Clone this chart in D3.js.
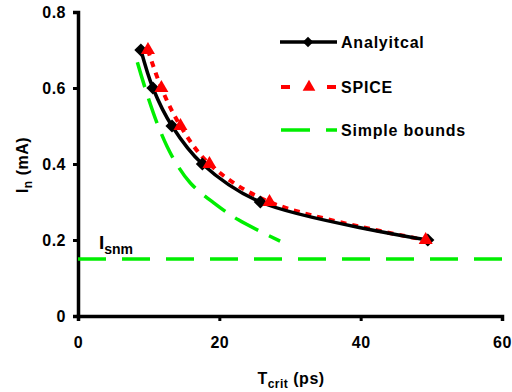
<!DOCTYPE html>
<html>
<head>
<meta charset="utf-8">
<script src="https://cdn.jsdelivr.net/npm/d3@7"></script>
<style>
  body { margin: 0; background: #fff; }
  text { font-family: "Liberation Sans", Arial, sans-serif; font-weight: bold; fill: #000; }
</style>
</head>
<body>
<div id="chart"></div>
<script>
// data
const analyticalT = [8.9, 10.6, 13.3, 17.6, 25.8, 49.5];
const analyticalI = [0.70, 0.60, 0.50, 0.40, 0.30, 0.20];
const spiceT = [9.9, 11.8, 14.5, 18.6, 27.1, 49.2];
const spiceI = [0.70, 0.60, 0.50, 0.40, 0.30, 0.20];
const boundsT = [8.4, 9.8, 11.35, 13.3, 15.9, 19.4, 22.7, 28.6];
const boundsI = [0.668, 0.582, 0.50, 0.421, 0.35, 0.295, 0.253, 0.197];
const isnm = 0.15;
const xTicks = [0, 20, 40, 60];
const yTicks = [0, 0.2, 0.4, 0.6, 0.8];

const W = 512, H = 392;
const margin = { top: 12, right: 10, bottom: 76, left: 78 };

const svg = d3.select("#chart").append("svg")
  .attr("width", W).attr("height", H);

const x = d3.scaleLinear().domain([0, 60]).range([margin.left, 502]);
const y = d3.scaleLinear().domain([0, 0.8]).range([316, margin.top]);

// axes
const xAxis = svg.append("g")
  .attr("transform", "translate(0," + y(0) + ")")
  .call(d3.axisBottom(x).tickValues(xTicks).tickFormat(d3.format("d")).tickSize(5).tickPadding(16));
const yAxis = svg.append("g")
  .attr("transform", "translate(" + x(0) + ",0)")
  .call(d3.axisLeft(y).tickValues(yTicks).tickFormat(d => d === 0 ? "0" : d3.format(".1f")(d)).tickSize(5).tickPadding(7));

[xAxis, yAxis].forEach(g => {
  g.select(".domain").attr("stroke", "#000").attr("stroke-width", 3.5);
  g.selectAll(".tick line").attr("stroke", "#000").attr("stroke-width", 3);
  g.selectAll(".tick text").style("font-size", "16px").style("font-weight", "bold")
    .style("letter-spacing", "0.5px")
    .style("font-family", "'Liberation Sans', Arial, sans-serif");
});

// axis titles
const xt = svg.append("text").attr("x", 291).attr("y", 384)
  .attr("text-anchor", "middle").style("font-size", "16px").style("letter-spacing", "0.5px");
xt.append("tspan").text("T");
xt.append("tspan").attr("dy", 4).style("font-size", "12px").text("crit");
xt.append("tspan").attr("dy", -4).text(" (ps)");

const yt = svg.append("text")
  .attr("transform", "translate(28,165) rotate(-90)")
  .attr("text-anchor", "middle").style("font-size", "16px").style("letter-spacing", "0.5px");
yt.append("tspan").text("I");
yt.append("tspan").attr("dy", 4).style("font-size", "12px").text("n");
yt.append("tspan").attr("dy", -4).text(" (mA)");

// Isnm reference line
svg.append("line")
  .attr("x1", x(0)).attr("x2", x(60))
  .attr("y1", y(isnm)).attr("y2", y(isnm))
  .attr("stroke", "#00ee00").attr("stroke-width", 3.5)
  .attr("stroke-dasharray", "28,16");

const lab = svg.append("text").attr("x", 99).attr("y", 249).style("font-size", "19px");
lab.append("tspan").text("I");
lab.append("tspan").attr("dy", 5).style("font-size", "14px").text("snm");

const line = d3.line().curve(d3.curveCatmullRom.alpha(0.5));

// simple bounds
svg.append("path")
  .attr("d", line(boundsT.map((t, i) => [x(t), y(boundsI[i])])))
  .attr("fill", "none").attr("stroke", "#00ee00").attr("stroke-width", 3.5)
  .attr("stroke-dasharray", "26,12");

// SPICE
const spicePts = spiceT.map((t, i) => [x(t), y(spiceI[i])]);
svg.append("path")
  .attr("d", line(spicePts))
  .attr("fill", "none").attr("stroke", "#ff0000").attr("stroke-width", 4)
  .attr("stroke-dasharray", "6,6");

// analytical
const anaPts = analyticalT.map((t, i) => [x(t), y(analyticalI[i])]);
svg.append("path")
  .attr("d", line(anaPts))
  .attr("fill", "none").attr("stroke", "#000").attr("stroke-width", 3.5);

svg.selectAll("path.dia").data(anaPts).enter().append("path")
  .attr("class", "dia")
  .attr("transform", d => "translate(" + d[0] + "," + d[1] + ")")
  .attr("d", d3.symbol(d3.symbolDiamond2, 110))
  .attr("fill", "#000");

svg.selectAll("path.tri").data(spicePts).enter().append("path")
  .attr("class", "tri")
  .attr("transform", d => "translate(" + d[0] + "," + d[1] + ")")
  .attr("d", d3.symbol(d3.symbolTriangle, 85))
  .attr("fill", "#ff0000");

// legend
const legend = [
  { name: "Analyitcal", y: 42 },
  { name: "SPICE", y: 87 },
  { name: "Simple bounds", y: 130 }
];
const lg = svg.append("g");
// Analytical
lg.append("line").attr("x1", 280).attr("x2", 337).attr("y1", 42).attr("y2", 42)
  .attr("stroke", "#000").attr("stroke-width", 3.5);
lg.append("path").attr("transform", "translate(308,42)")
  .attr("d", d3.symbol(d3.symbolDiamond2, 70)).attr("fill", "#000");
// SPICE
lg.append("line").attr("x1", 281).attr("x2", 337).attr("y1", 87).attr("y2", 87)
  .attr("stroke", "#ff0000").attr("stroke-width", 4).attr("stroke-dasharray", "9,37,9");
lg.append("path").attr("transform", "translate(309,87)")
  .attr("d", d3.symbol(d3.symbolTriangle, 70)).attr("fill", "#ff0000");
// Simple bounds
lg.append("line").attr("x1", 281).attr("x2", 337).attr("y1", 130).attr("y2", 130)
  .attr("stroke", "#00ee00").attr("stroke-width", 3.5).attr("stroke-dasharray", "29,16,11");

lg.selectAll("text").data(legend).enter().append("text")
  .attr("x", 341).attr("y", d => d.y + 6)
  .style("font-size", "16px")
  .style("letter-spacing", "0.8px")
  .text(d => d.name);
</script>
</body>
</html>
